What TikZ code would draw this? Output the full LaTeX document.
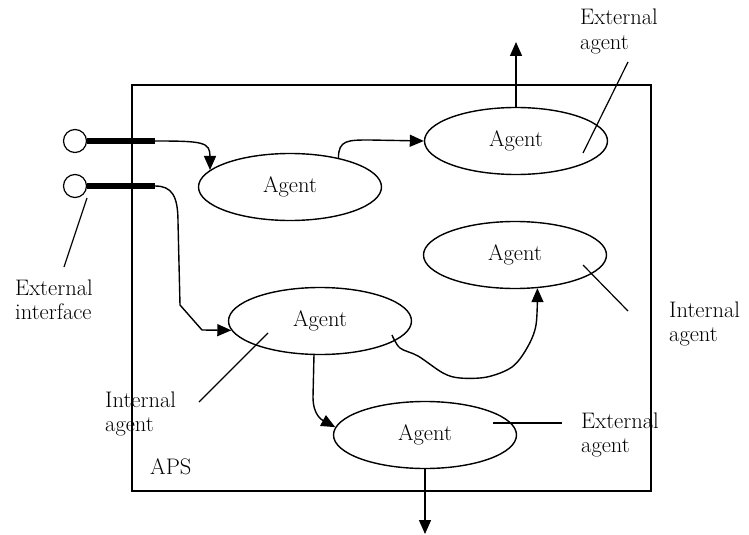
\documentclass[tikz,border=0pt]{standalone}
\usepackage{fontspec}
\usetikzlibrary{arrows.meta,shapes.geometric}
\begin{document}
\begin{tikzpicture}[x=1pt,y=-1pt,
  every node/.style={font=\fontsize{22.5}{24.5}\selectfont},
  agent/.style={draw,ellipse,line width=1.4pt,minimum width=183pt,minimum height=67pt,inner sep=0pt},
  port/.style={draw,circle,line width=1.2pt,minimum size=23pt,inner sep=0pt},
  bar/.style={line width=6.5pt},
  conn/.style={line width=1.4pt},
  arr/.style={conn,-{Triangle[length=14pt,width=12pt]}},
  lbl/.style={anchor=base west,inner sep=0pt},
  ptr/.style={line width=1.2pt}]
\useasboundingbox (0,0) rectangle (749,535);
% system boundary
\draw[line width=1.4pt] (132,85) rectangle (651,491);
\node[lbl] (aps) at (150,474) {APS};
% agents
\node[agent] (e1) at (290,187) {Agent};
\node[agent] (e2) at (516,141) {Agent};
\node[agent] (e3) at (515,255) {Agent};
\node[agent] (e4) at (320,321) {Agent};
\node[agent] (e5) at (425,435) {Agent};
% external interface ports
\node[port] (c1) at (75,141) {};
\node[port] (c2) at (75,186) {};
\coordinate (b1) at (155,141);
\coordinate (b2) at (155,186);
\draw[bar] (c1.east) -- (b1);
\draw[bar] (c2.east) -- (b2);
% free ends
\coordinate (up) at (516,42);
\coordinate (down) at (425,534);
\coordinate (s5) at (392,335);
% connectors
\draw[arr] (b1) .. controls +(48,0) and +(0,-28) .. (e1.168);
\draw[arr] (b2) .. controls (172,186) and (178,196) .. (178,222) -- (180,305) -- (202,330) -- (e4.186);
\draw[arr] (e1.31) .. controls +(0,-18) and +(-22,0) .. (370,140) -- (e2.west);
\draw[arr] (e2.north) -- (up);
\draw[arr] plot[smooth,tension=0.55] coordinates {(s5) (400,348) (418,356) (443,373) (460,378) (487,377) (512,367) (527,348) (536,325) (e3.304)};
\draw[arr] (e4.260) -- (313,397) .. controls (313,415) and (322,420) .. (e5.175);
\draw[arr] (e5.south) -- (down);
% labels
\node[lbl] (la) at (580,25) {\begin{tabular}[t]{@{}l@{}}External\\agent\end{tabular}};
\node[lbl] (lb) at (669,317) {\begin{tabular}[t]{@{}l@{}}Internal\\agent\end{tabular}};
\node[lbl] (lc) at (15,295) {\begin{tabular}[t]{@{}l@{}}External\\interface\end{tabular}};
\node[lbl] (ld) at (105,407) {\begin{tabular}[t]{@{}l@{}}Internal\\agent\end{tabular}};
\node[lbl] (le) at (581,428) {\begin{tabular}[t]{@{}l@{}}External\\agent\end{tabular}};
% pointer lines
\draw[ptr] (628,62) -- (583,153);
\draw[ptr] (583,265) -- (628,311);
\draw[ptr] (87,198) -- (64,267);
\draw[ptr] (268,333) -- (199,402);
\draw[ptr] (493,423) -- (562,423);
\end{tikzpicture}
\end{document}
